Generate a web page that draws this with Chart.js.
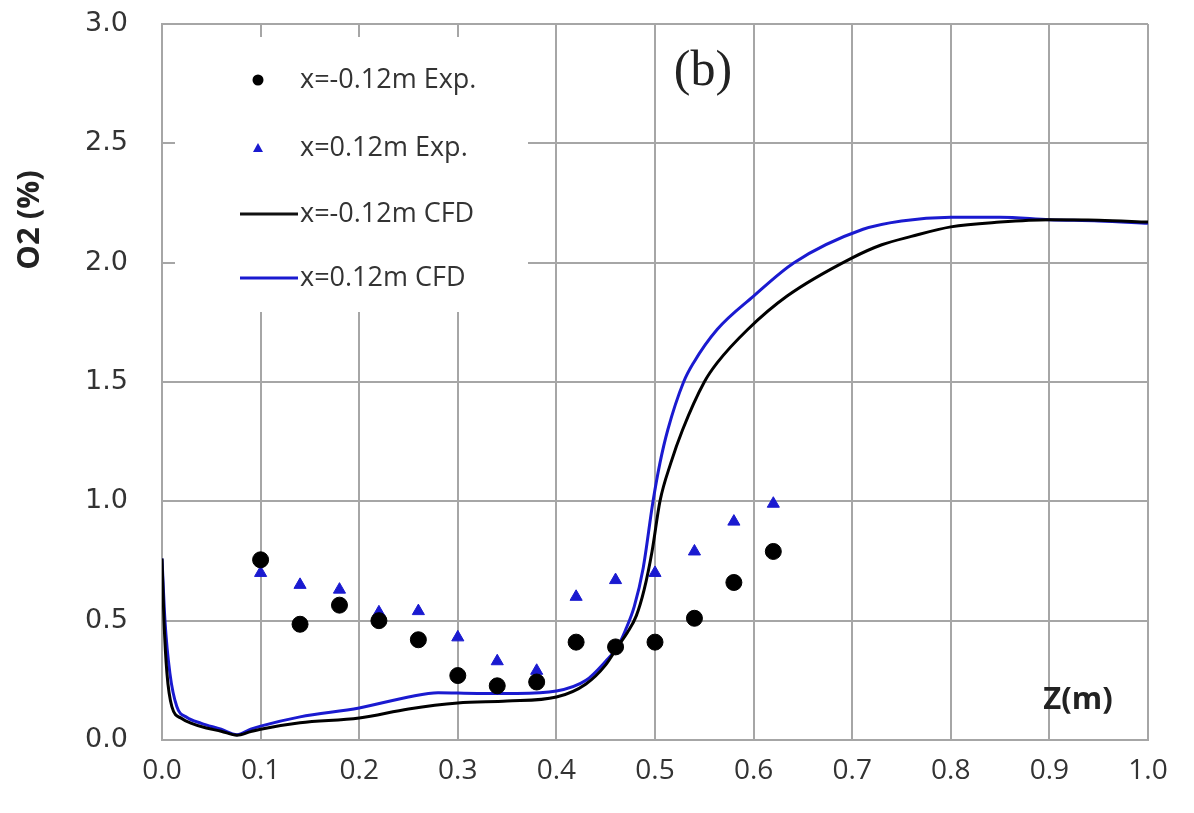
<!DOCTYPE html>
<html>
<head>
  <title>O2 profile</title>
  <script src="https://cdn.jsdelivr.net/npm/chart.js@4.4.1/dist/chart.umd.min.js"></script>
  <style>
    body { margin: 0; background: #fff; }
    #wrap { width: 1194px; height: 813px; }
  </style>
</head>
<body>
  <div id="wrap"><canvas id="myChart" width="1194" height="813"></canvas></div>

  <script>
    // experimental points
    var expZ = [0.10, 0.14, 0.18, 0.22, 0.26, 0.30, 0.34, 0.38, 0.42, 0.46, 0.50, 0.54, 0.58, 0.62];
    var expNeg = [0.755, 0.485, 0.565, 0.50, 0.42, 0.27, 0.227, 0.243, 0.41, 0.39, 0.41, 0.51, 0.66, 0.79];
    var expPos = [0.70, 0.65, 0.63, 0.535, 0.54, 0.43, 0.33, 0.29, 0.60, 0.67, 0.70, 0.79, 0.915, 0.99];

    // CFD curves
    var cfdNegZ = [0, 0.002, 0.005, 0.01, 0.02, 0.03, 0.045, 0.06, 0.076, 0.09, 0.10, 0.14, 0.20, 0.25, 0.30, 0.35, 0.40, 0.43, 0.45, 0.462, 0.472, 0.481, 0.489, 0.497, 0.505, 0.516, 0.528, 0.55, 0.563, 0.594, 0.634, 0.70, 0.73, 0.76, 0.80, 0.85, 0.90, 0.95, 1.0];
    var cfdNeg = [0.76, 0.50, 0.28, 0.14, 0.09, 0.07, 0.05, 0.037, 0.02, 0.035, 0.045, 0.072, 0.092, 0.13, 0.155, 0.163, 0.18, 0.235, 0.315, 0.39, 0.45, 0.52, 0.63, 0.79, 1.0, 1.16, 1.30, 1.50, 1.58, 1.72, 1.86, 2.02, 2.075, 2.11, 2.15, 2.17, 2.18, 2.178, 2.17];
    var cfdPosZ = [0, 0.003, 0.008, 0.015, 0.025, 0.04, 0.06, 0.076, 0.09, 0.10, 0.14, 0.20, 0.25, 0.28, 0.32, 0.36, 0.40, 0.43, 0.45, 0.462, 0.47, 0.479, 0.488, 0.498, 0.505, 0.513, 0.529, 0.539, 0.563, 0.60, 0.641, 0.711, 0.75, 0.80, 0.85, 0.90, 0.95, 1.0];
    var cfdPos = [0.76, 0.50, 0.28, 0.14, 0.095, 0.07, 0.045, 0.022, 0.045, 0.058, 0.097, 0.134, 0.18, 0.198, 0.195, 0.195, 0.205, 0.25, 0.33, 0.39, 0.46, 0.56, 0.72, 1.0, 1.16, 1.30, 1.50, 1.58, 1.72, 1.86, 2.0, 2.14, 2.175, 2.19, 2.19, 2.18, 2.175, 2.165];

    var legendLabels = ['x=-0.12m Exp.', 'x=0.12m Exp.', 'x=-0.12m CFD', 'x=0.12m CFD'];

    var blue = '#1a1ad0';
    var gridColor = '#a6a6a6';

    function pts(xs, ys) {
      var out = [];
      for (var i = 0; i < xs.length; i++) out.push({ x: xs[i], y: ys[i] });
      return out;
    }

    // white legend box, labels, (b) and axis titles
    var decor = {
      id: 'decor',
      beforeDatasetsDraw: function(chart) {
        var c = chart.ctx;
        c.save();
        c.fillStyle = '#fff';
        c.fillRect(175, 37, 353, 275);
        c.restore();
      },
      afterDraw: function(chart) {
        var c = chart.ctx;
        c.save();
        c.font = '27px "Liberation Sans Narrow", "Open Sans", sans-serif';
        c.textBaseline = 'middle';
        var rows = [80, 148, 214, 278];
        for (var i = 0; i < rows.length; i++) {
          c.fillStyle = '#333';
          c.fillText(legendLabels[i], 300, rows[i]);
        }
        // markers
        c.fillStyle = '#000';
        c.beginPath();
        c.arc(258, rows[0], 5.5, 0, Math.PI * 2);
        c.fill();
        c.fillStyle = blue;
        c.beginPath();
        c.moveTo(258, rows[1] - 5);
        c.lineTo(263, rows[1] + 4);
        c.lineTo(253, rows[1] + 4);
        c.closePath();
        c.fill();
        c.lineWidth = 3;
        c.strokeStyle = '#111';
        c.beginPath();
        c.moveTo(240, rows[2]);
        c.lineTo(298, rows[2]);
        c.stroke();
        c.strokeStyle = blue;
        c.beginPath();
        c.moveTo(240, rows[3]);
        c.lineTo(298, rows[3]);
        c.stroke();

        // (b)
        c.fillStyle = '#222';
        c.font = '50px "Liberation Serif", serif';
        c.textAlign = 'center';
        c.fillText('(b)', 703, 72);

        // Z(m)
        c.font = 'bold 31px "Liberation Sans Narrow", "Open Sans", sans-serif';
        c.fillText('Z(m)', 1078, 700);

        // y title
        c.translate(30, 220);
        c.rotate(-Math.PI / 2);
        c.fillText('O2 (%)', 0, 0);
        c.restore();
      }
    };

    var ctx = document.getElementById('myChart').getContext('2d');
    var chart = new Chart(ctx, {
      type: 'scatter',
      data: {
        datasets: [
          {
            label: legendLabels[0],
            data: pts(expZ, expNeg),
            pointStyle: 'circle',
            pointRadius: 8,
            backgroundColor: '#000',
            borderColor: '#000',
            showLine: false
          },
          {
            label: legendLabels[1],
            data: pts(expZ, expPos),
            pointStyle: 'triangle',
            pointRadius: 7,
            backgroundColor: blue,
            borderColor: blue,
            showLine: false
          },
          {
            label: legendLabels[2],
            data: pts(cfdNegZ, cfdNeg),
            showLine: true,
            pointRadius: 0,
            borderColor: '#000',
            borderWidth: 3,
            cubicInterpolationMode: 'monotone'
          },
          {
            label: legendLabels[3],
            data: pts(cfdPosZ, cfdPos),
            showLine: true,
            pointRadius: 0,
            borderColor: blue,
            borderWidth: 3,
            cubicInterpolationMode: 'monotone'
          }
        ]
      },
      options: {
        responsive: false,
        animation: false,
        layout: { padding: { top: 24, right: 46, left: 0, bottom: 0 } },
        plugins: { legend: { display: false }, tooltip: { enabled: false } },
        scales: {
          x: {
            type: 'linear',
            min: 0, max: 1,
            afterFit: function(s) { s.height = 73; },
            grid: { color: gridColor, lineWidth: 2, drawTicks: false },
            border: { color: gridColor, width: 2 },
            ticks: {
              stepSize: 0.1,
              padding: 14,
              color: '#333',
              font: { family: '"Liberation Sans Narrow", "Open Sans", sans-serif', size: 28 },
              callback: function(v) { return v.toFixed(1); }
            }
          },
          y: {
            min: 0, max: 3,
            afterFit: function(s) { s.width = 162; s.paddingTop = 0; s.paddingBottom = 0; },
            grid: { color: gridColor, lineWidth: 2, drawTicks: false },
            border: { color: gridColor, width: 2 },
            ticks: {
              stepSize: 0.5,
              padding: 34,
              color: '#333',
              font: { family: '"DejaVu Sans", Verdana, sans-serif', size: 27 },
              callback: function(v) { return v.toFixed(1); }
            }
          }
        }
      },
      plugins: [decor]
    });
  </script>
</body>
</html>
